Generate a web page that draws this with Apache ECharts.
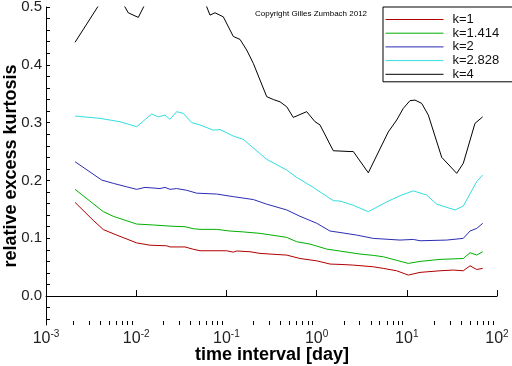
<!DOCTYPE html>
<html>
<head>
<meta charset="utf-8">
<script src="https://cdn.jsdelivr.net/npm/echarts@6/dist/echarts.min.js"></script>
<style>
html,body{margin:0;padding:0;background:#fff;}
#c{width:512px;height:366px;}
</style>
</head>
<body>
<div id="c"></div>
<script>
// ---- data (x in days, y = relative excess kurtosis) ----
const seriesNames = ['k=1', 'k=1.414', 'k=2', 'k=2.828', 'k=4'];

const xK1 = [0.00210,0.00334,0.00432,0.00608,0.01013,0.01422,0.02178,0.0237,0.03475,0.04295,0.05097,0.1008,0.1193,0.1301,0.1827,0.2358,0.4662,0.6546,1.003,1.408,1.817,2.552,4.254,5.489,7.727,10.39,14.01,23.34,32.78,42.30,50.20,59.55,69.40];
const yK1 = [0.162,0.131,0.115,0.1055,0.092,0.088,0.087,0.085,0.085,0.081,0.0784,0.0784,0.076,0.078,0.0767,0.0738,0.0709,0.065,0.061,0.0554,0.0548,0.0536,0.0507,0.0479,0.0438,0.0363,0.041,0.0438,0.045,0.0438,0.0524,0.046,0.0479];

const xK1414 = [0.00210,0.00432,0.00557,0.01013,0.01548,0.0237,0.03475,0.04295,0.05097,0.07807,0.1096,0.1540,0.2358,0.4662,0.6018,0.8451,1.294,1.817,3.028,4.254,5.489,10.39,14.01,23.34,42.30,50.20,59.55,69.40];
const yK1414 = [0.1846,0.146,0.138,0.1246,0.123,0.121,0.120,0.1165,0.1154,0.1154,0.1125,0.111,0.1085,0.1016,0.094,0.090,0.0813,0.0779,0.0727,0.0704,0.068,0.0565,0.060,0.0635,0.065,0.075,0.071,0.0767];

const xK2 = [0.00210,0.00415,0.00557,0.00785,0.01013,0.01252,0.01836,0.02086,0.0237,0.02812,0.0363,0.04686,0.07807,0.1193,0.1987,0.2798,0.4662,0.6546,1.003,1.408,1.817,2.784,4.254,8.406,11.81,14.01,27.70,42.30,50.20,59.55,69.40];
const yK2 = [0.2324,0.2007,0.195,0.189,0.1846,0.188,0.186,0.188,0.1846,0.186,0.183,0.178,0.1765,0.172,0.167,0.159,0.149,0.138,0.126,0.1125,0.110,0.1055,0.0998,0.0969,0.098,0.0957,0.0969,0.0998,0.1125,0.117,0.1258];

const xK2828 = [0.00210,0.00397,0.00661,0.01013,0.01485,0.01758,0.02086,0.0237,0.02812,0.03329,0.04124,0.05097,0.07158,0.08492,0.1193,0.1540,0.2798,0.4662,0.6018,0.9192,1.531,1.817,2.552,3.743,5.988,8.779,11.81,16.63,21.46,34.23,42.30,59.55,69.40];
const yK2828 = [0.3114,0.3074,0.3016,0.293,0.3149,0.310,0.313,0.3057,0.319,0.316,0.300,0.296,0.287,0.288,0.2768,0.271,0.2365,0.218,0.2053,0.188,0.165,0.1644,0.157,0.146,0.163,0.1747,0.182,0.1747,0.159,0.149,0.1557,0.198,0.2093];

const xK4 = [0.00210,0.00451,0.00582,0.00817,0.01055,0.01252,0.01836,0.03475,0.05097,0.06579,0.07472,0.0924,0.1193,0.1415,0.1679,0.1987,0.2358,0.2798,0.3311,0.3929,0.4662,0.5516,0.7765,0.96,1.091,1.531,2.346,2.552,3.743,6.237,7.727,9.146,10.85,12.33,14.63,17.32,24.38,35.75,42.30,57.02,69.40];
const yK4 = [0.439,0.52,0.53,0.49,0.482,0.505,0.55,0.56,0.53,0.486,0.490,0.483,0.449,0.444,0.4256,0.4026,0.3737,0.345,0.340,0.336,0.3275,0.309,0.319,0.3016,0.296,0.2514,0.250,0.250,0.2133,0.284,0.3045,0.3247,0.338,0.339,0.3333,0.313,0.240,0.2123,0.2296,0.2988,0.310];

const seriesColors = ['#b00000', '#00b000', '#2c2cb4', '#33dede', '#000000'];

// ---- axis ticks & texts ----
const xDecades = [0.001, 0.01, 0.1, 1, 10, 100];
const xMinorMultipliers = [2, 3, 4, 5, 6, 7, 8, 9];
const yLabelValues = [0, 0.1, 0.2, 0.3, 0.4, 0.5];
const yTickStep = 0.02;
const yTickFrom = -0.04;
const copyrightText = 'Copyright Gilles Zumbach 2012';
const xTitle = 'time interval [day]';
const yTitle = 'relative excess kurtosis';

// ---- build ----
const xs = [xK1, xK1414, xK2, xK2828, xK4];
const ys = [yK1, yK1414, yK2, yK2828, yK4];

const xMinorTicks = [];
xDecades.slice(0, -1).forEach(d => xMinorMultipliers.forEach(m => xMinorTicks.push(+(d * m).toPrecision(3))));
const yTicks = [];
for (let i = 0; ; i++) {
  const v = +(yTickFrom + i * yTickStep).toFixed(2);
  if (v > 0.5001) break;
  yTicks.push(v);
}

const FONT = 'Liberation Sans, Arial, Helvetica, sans-serif';

const series = seriesNames.map((name, i) => {
  const s = {
    name: name,
    type: 'line',
    xAxisIndex: 0,
    yAxisIndex: 0,
    data: xs[i].map((x, j) => [x, ys[i][j]]),
    symbol: 'none',
    showSymbol: false,
    clip: true,
    lineStyle: { color: seriesColors[i], width: 1 },
    itemStyle: { color: seriesColors[i] },
    animation: false,
    z: 3
  };
  if (i === seriesNames.length - 1) {
    s.markLine = {
      silent: true,
      symbol: 'none',
      label: { show: false },
      lineStyle: { color: '#000', width: 1, type: 'solid' },
      data: [{ yAxis: 0 }],
      animation: false
    };
  }
  return s;
});

const chart = echarts.init(document.getElementById('c'), null, { renderer: 'canvas' });
chart.setOption({
  animation: false,
  backgroundColor: '#fff',
  title: {
    text: copyrightText,
    left: 255,
    top: 10,
    padding: 0,
    textStyle: { fontFamily: FONT, fontSize: 8, fontWeight: 'normal', color: '#000' }
  },
  graphic: [
    {
      type: 'text',
      x: 272, y: 355,
      silent: true,
      style: { text: xTitle, fontFamily: FONT, fontSize: 18, fontWeight: 'bold', fill: '#000', align: 'center', verticalAlign: 'middle' }
    },
    {
      type: 'text',
      x: 11, y: 166,
      rotation: Math.PI / 2,
      silent: true,
      style: { text: yTitle, fontFamily: FONT, fontSize: 18, fontWeight: 'bold', fill: '#000', align: 'center', verticalAlign: 'middle' }
    }
  ],
  grid: { left: 46, right: 15, top: 7, bottom: 41, containLabel: false, outerBoundsMode: 'none' },
  legend: {
    orient: 'vertical',
    left: 383,
    top: 7,
    padding: [6, 15, 1, 2],
    itemGap: 0.7,
    itemWidth: 58,
    itemHeight: 12,
    backgroundColor: '#fff',
    borderColor: '#000',
    borderWidth: 1,
    borderRadius: 0,
    data: seriesNames,
    itemStyle: { opacity: 0, borderWidth: 0 },
    lineStyle: { width: 1 },
    textStyle: { fontFamily: FONT, fontSize: 13, lineHeight: 12, color: '#111', padding: [0, 0, 0, 4] }
  },
  xAxis: [
    {
      type: 'log',
      logBase: 10,
      min: 0.001,
      max: 100,
      position: 'bottom',
      axisLine: { show: true, lineStyle: { color: '#000', width: 1 } },
      axisTick: { show: true, inside: true, length: 6, lineStyle: { color: '#000' }, customValues: xDecades },
      splitLine: { show: false },
      minorTick: { show: false },
      axisLabel: {
        margin: 4,
        customValues: xDecades,
        color: '#222',
        formatter: function (v) {
          const e = Math.round(Math.log10(v));
          return '{b|10}{s|' + e + '}';
        },
        rich: {
          b: { fontFamily: FONT, fontSize: 16, lineHeight: 18, color: '#222', verticalAlign: 'bottom' },
          s: { fontFamily: FONT, fontSize: 10, lineHeight: 18, color: '#222', verticalAlign: 'top' }
        }
      }
    },
    {
      type: 'log',
      logBase: 10,
      min: 0.001,
      max: 100,
      position: 'bottom',
      axisLine: { show: false },
      axisLabel: { show: false },
      splitLine: { show: false },
      axisTick: { show: true, inside: true, length: 4, lineStyle: { color: '#000' }, customValues: xMinorTicks }
    }
  ],
  yAxis: [
    {
      type: 'value',
      min: -0.05,
      max: 0.5,
      position: 'left',
      axisLine: { show: true, lineStyle: { color: '#000', width: 1 } },
      axisTick: { show: true, inside: true, length: 4, lineStyle: { color: '#000' }, customValues: yTicks },
      splitLine: { show: false },
      axisLabel: {
        margin: 4,
        customValues: yLabelValues,
        fontFamily: FONT,
        fontSize: 15,
        color: '#222',
        formatter: v => v.toFixed(1)
      }
    }
  ],
  series: series
});
</script>
</body>
</html>
